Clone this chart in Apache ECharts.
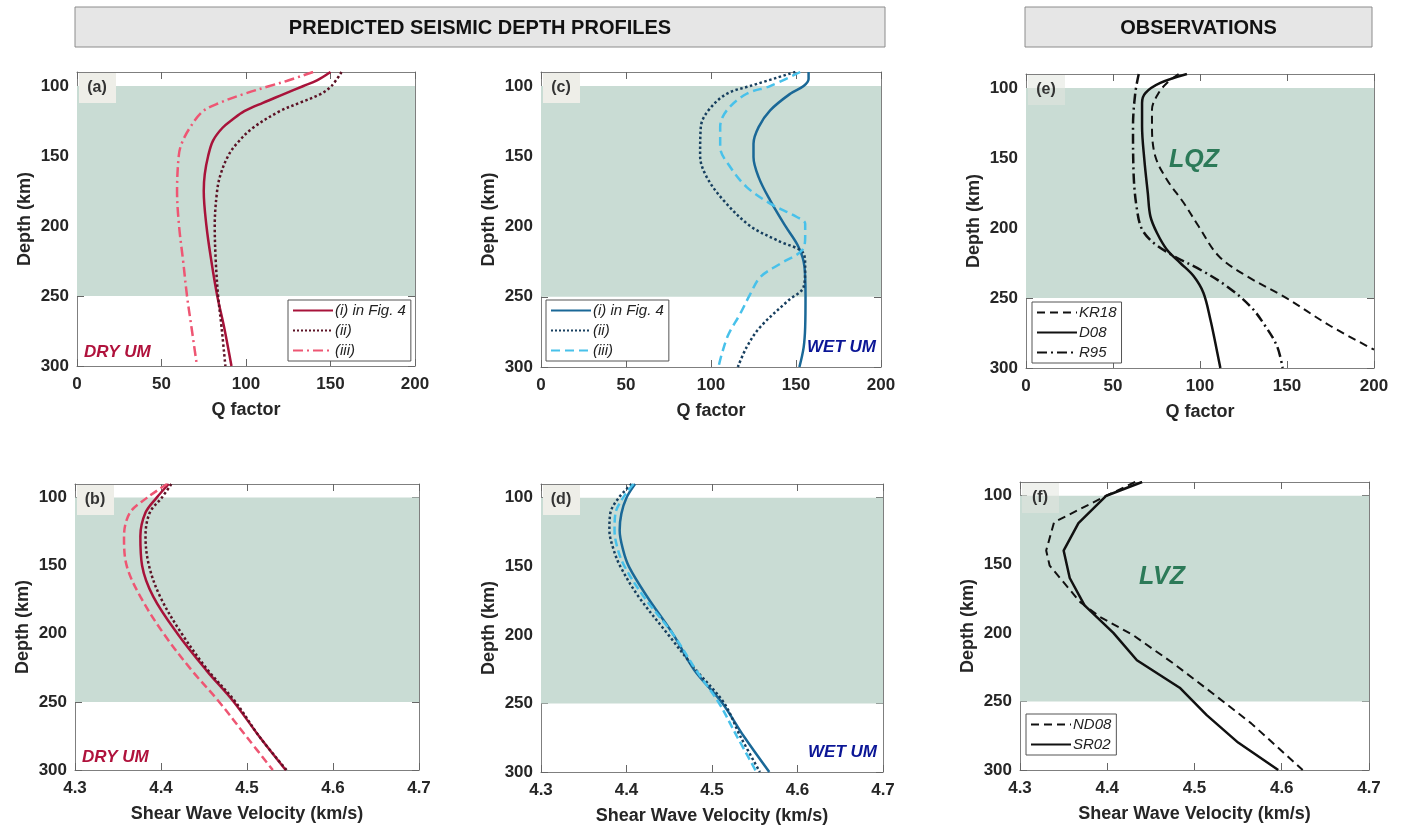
<!DOCTYPE html>
<html>
<head>
<meta charset="utf-8">
<script src="https://cdn.jsdelivr.net/npm/echarts@6/dist/echarts.min.js"></script>
<style>html,body{margin:0;padding:0;background:#fff}#c{width:1404px;height:831px}</style>
</head>
<body>
<div id="c"></div>
<script>
// ---------- DATA ----------
const qTicks = [0, 50, 100, 150, 200];
const vTicks = [4.3, 4.4, 4.5, 4.6, 4.7];
const depthTicks = [100, 150, 200, 250, 300];
const zoneTop = 100, zoneBottom = 250;

// (a) Q factor, dry upper mantle
const depthA1 = [90, 96, 100, 106, 112, 118, 124, 130, 139, 150, 163, 175, 200, 225, 250, 272, 300];
const qA1 = [150, 142, 134, 122, 110, 99, 92, 86, 80.5, 77.6, 75.6, 75, 76.6, 79.5, 83, 87, 91.4];
const depthA2 = [90, 100, 106, 112, 118, 130, 141.5, 150, 163, 175, 200, 225, 250, 272, 300];
const qA2 = [156.5, 150.6, 143.7, 131.8, 120, 104, 94.3, 89.4, 85, 82.9, 81.5, 82.1, 83.5, 85.5, 87.8];
const depthA3 = [90, 96.4, 100, 106, 112, 118, 130, 141.5, 150, 175, 200, 225, 250, 272, 300];
const qA3 = [139.7, 124, 114, 98, 84.5, 74.6, 66.7, 61.8, 60.2, 59.2, 60.4, 62.8, 65.1, 67.7, 71];

// (c) Q factor, wet upper mantle
const depthC1 = [90, 95, 100, 105.5, 117.3, 129.2, 141, 150.5, 164.8, 181.4, 199.6, 214.6, 228.8, 250, 271.5, 286, 300];
const qC1 = [157.4, 157.4, 154.5, 146.6, 134.8, 128, 125, 125, 128, 134.8, 143.7, 151.5, 155, 155.6, 155.4, 154.5, 152];
const depthC2 = [90, 100, 105.5, 117.3, 129.2, 149.8, 164.8, 181.4, 199.6, 209.8, 219.3, 228.8, 243, 252.5, 271.5, 285.8, 300];
const qC2 = [149.6, 123, 109.3, 98.5, 94, 93.6, 97.5, 107.4, 123, 138.8, 154.5, 155.4, 154.5, 145.6, 129, 121, 115.8];
const depthC3 = [90, 100, 105.5, 117.3, 129.2, 143.4, 157.6, 171.9, 183.7, 193.2, 198, 207.5, 217, 226.5, 236, 248.3, 262.5, 276.7, 290.5, 300];
const qC3 = [152.5, 134.8, 121, 109.3, 105.4, 105.4, 111.3, 121, 134.8, 150.5, 155.4, 155.4, 153.5, 140.7, 129, 123, 117, 110.3, 106.4, 104.4];

// (e) Q factor observations
const depthKR18 = [90, 96.4, 103.6, 115.5, 127.4, 148.8, 165.5, 182, 198.8, 220, 234.5, 248.8, 270, 286.9];
const qKR18 = [87.7, 81, 76.2, 72.4, 72.4, 74.3, 81, 90.6, 99.2, 110.7, 127, 148, 175, 200];
const depthD08 = [90, 96.4, 103.6, 110.7, 127.4, 151, 175, 191.7, 203.6, 215.5, 225, 234.5, 246.4, 265.5, 282, 300];
const qD08 = [92.5, 77.2, 68.6, 66.7, 66.7, 68, 70, 71.5, 75.3, 81, 88.7, 96.4, 102, 106, 108.8, 111.7];
const depthR95 = [90, 103.6, 127.4, 163, 187, 201, 210.7, 220, 229.8, 241.7, 256, 270, 284.5, 300];
const qR95 = [64.8, 62.8, 61.5, 61.9, 63.8, 66.7, 73.4, 84.9, 100.2, 115.5, 129, 137.5, 144.3, 147.5];

// (b) Vs, dry upper mantle
const depthB = [90, 100, 111, 128.3, 149.8, 172.7, 199.8, 227, 249.5, 276, 300];
const vB1 = [4.409, 4.395, 4.382, 4.376, 4.378, 4.391, 4.419, 4.453, 4.484, 4.515, 4.545];
const vB2 = [4.412, 4.401, 4.387, 4.382, 4.386, 4.399, 4.424, 4.455, 4.486, 4.515, 4.546];
const vB3 = [4.407, 4.384, 4.364, 4.357, 4.360, 4.376, 4.403, 4.436, 4.467, 4.500, 4.530];

// (d) Vs, wet upper mantle
const depthD = [90, 100, 111.6, 123.7, 138, 150.4, 172, 200, 225.4, 249.6, 273.8, 300];
const vD1 = [4.410, 4.400, 4.394, 4.392, 4.396, 4.403, 4.424, 4.455, 4.479, 4.512, 4.537, 4.567];
const vD2 = [4.406, 4.391, 4.381, 4.380, 4.385, 4.393, 4.414, 4.449, 4.481, 4.514, 4.533, 4.556];
const vD3 = [4.408, 4.396, 4.387, 4.386, 4.390, 4.398, 4.420, 4.455, 4.481, 4.508, 4.529, 4.552];

// (f) Vs observations
const depthSR02 = [90, 100, 120, 140, 160, 180, 200, 220, 240, 260, 280, 300];
const vSR02 = [4.440, 4.399, 4.367, 4.350, 4.357, 4.374, 4.407, 4.434, 4.483, 4.514, 4.550, 4.596];
const depthND08 = [90, 101, 119.4, 140, 151, 177.6, 188.5, 201.8, 222.4, 244.2, 266, 300];
const vND08 = [4.432, 4.396, 4.339, 4.330, 4.334, 4.369, 4.392, 4.430, 4.476, 4.521, 4.565, 4.624];

const modelNames = ['(i) in Fig. 4', '(ii)', '(iii)'];

// ---------- LAYOUT / STYLE ----------
const FONT = "'Liberation Sans', Arial, sans-serif";
const grids = [
  {left: 77, top: 72, width: 338, height: 294},   // a
  {left: 541, top: 72, width: 340, height: 295},  // c
  {left: 1026, top: 74, width: 348, height: 294}, // e
  {left: 75, top: 484, width: 344, height: 286},  // b
  {left: 541, top: 484, width: 342, height: 288}, // d
  {left: 1020, top: 482, width: 349, height: 288} // f
];
const BAND = '#c9dcd4';
const pair = (xs, ys) => xs.map((x, i) => [x, ys[i]]);

const xAxes = [], yAxes = [];
grids.forEach((g, i) => {
  const isQ = i < 3;
  const base = {
    gridIndex: i, type: 'value',
    min: isQ ? qTicks[0] : vTicks[0], max: isQ ? qTicks[qTicks.length - 1] : vTicks[vTicks.length - 1],
    interval: isQ ? 50 : 0.1,
    axisLine: {show: true, onZero: false, lineStyle: {color: '#7f7f7f', width: 1}},
    splitLine: {show: false}
  };
  xAxes.push(Object.assign({}, base, {
    position: 'bottom',
    name: isQ ? 'Q factor' : 'Shear Wave Velocity (km/s)',
    nameLocation: 'middle', nameGap: 35,
    nameTextStyle: {fontFamily: FONT, fontWeight: 'bold', fontSize: 18, color: '#262626'},
    axisTick: {show: true, inside: true, length: 7, lineStyle: {color: '#666'}},
    axisLabel: {fontFamily: FONT, fontWeight: 'bold', fontSize: 17, color: '#262626', margin: 10,
      formatter: v => isQ ? String(Math.round(v)) : v.toFixed(1)}
  }));
  xAxes.push(Object.assign({}, base, {
    position: 'top',
    axisTick: {show: true, inside: true, length: 7, lineStyle: {color: '#666'}},
    axisLabel: {show: false}
  }));
  const yb = {
    gridIndex: i, type: 'value', min: 90, max: 300, inverse: true,
    axisLine: {show: true, onZero: false, lineStyle: {color: '#7f7f7f', width: 1}},
    splitLine: {show: false}
  };
  yAxes.push(Object.assign({}, yb, {
    position: 'left',
    name: 'Depth (km)', nameLocation: 'middle', nameGap: 43, nameRotate: 90,
    nameTextStyle: {fontFamily: FONT, fontWeight: 'bold', fontSize: 18, color: '#262626'},
    axisTick: {show: true, inside: true, length: 7, customValues: depthTicks, lineStyle: {color: '#666'}},
    axisLabel: {fontFamily: FONT, fontWeight: 'bold', fontSize: 17, color: '#262626', margin: 8, customValues: depthTicks}
  }));
  yAxes.push(Object.assign({}, yb, {
    position: 'right',
    axisTick: {show: true, inside: true, length: 7, customValues: depthTicks, lineStyle: {color: '#666'}},
    axisLabel: {show: false}
  }));
});

const series = [];
function band(i) {
  series.push({
    type: 'line', xAxisIndex: 2 * i, yAxisIndex: 2 * i, data: [], z: 1, silent: true,
    markArea: {silent: true, itemStyle: {color: BAND}, data: [[{yAxis: zoneTop}, {yAxis: zoneBottom}]]}
  });
}
function curve(i, name, data, color, type, width, smooth) {
  series.push({
    type: 'line', name: name, xAxisIndex: 2 * i, yAxisIndex: 2 * i, data: data,
    symbol: 'none', smooth: smooth === undefined ? 0.35 : smooth, z: 3,
    lineStyle: {color: color, type: type, width: width || 2.5},
    itemStyle: {color: color}
  });
}
for (let i = 0; i < 6; i++) band(i);

const RED1 = '#a8133a', RED2 = '#5c1225', RED3 = '#ee5673';
const BLU1 = '#1a6897', BLU2 = '#173f5f', BLU3 = '#48c1ea';
const DASHDOT = [10, 4, 2, 4];
curve(0, 'a' + modelNames[0], pair(qA1, depthA1), RED1, 'solid');
curve(0, 'a' + modelNames[1], pair(qA2, depthA2), RED2, 'dotted');
curve(0, 'a' + modelNames[2], pair(qA3, depthA3), RED3, DASHDOT);
curve(1, 'c' + modelNames[0], pair(qC1, depthC1), BLU1, 'solid');
curve(1, 'c' + modelNames[1], pair(qC2, depthC2), BLU2, 'dotted');
curve(1, 'c' + modelNames[2], pair(qC3, depthC3), BLU3, [9, 5]);
curve(2, 'eKR18', pair(qKR18, depthKR18), '#111', [8, 5], 2);
curve(2, 'eD08', pair(qD08, depthD08), '#111', 'solid', 2.5);
curve(2, 'eR95', pair(qR95, depthR95), '#111', DASHDOT, 2.5);
curve(3, 'b' + modelNames[0], pair(vB1, depthB), RED1, 'solid');
curve(3, 'b' + modelNames[1], pair(vB2, depthB), RED2, 'dotted');
curve(3, 'b' + modelNames[2], pair(vB3, depthB), RED3, [8, 4]);
curve(4, 'd' + modelNames[0], pair(vD1, depthD), BLU1, 'solid');
curve(4, 'd' + modelNames[1], pair(vD2, depthD), BLU2, 'dotted');
curve(4, 'd' + modelNames[2], pair(vD3, depthD), BLU3, [8, 4]);
curve(5, 'fND08', pair(vND08, depthND08), '#111', [8, 5], 2, false);
curve(5, 'fSR02', pair(vSR02, depthSR02), '#111', 'solid', 2.5, false);

function legend(left, top, names) {
  return {
    left: left, top: top, orient: 'vertical', data: names, selectedMode: false,
    backgroundColor: '#fff', borderColor: '#555', borderWidth: 1, borderRadius: 0,
    padding: [3, 5, 3, 4], itemWidth: 40, itemHeight: 12, itemGap: 5,
    itemStyle: {opacity: 0},
    formatter: n => n.slice(1),
    textStyle: {fontFamily: FONT, fontStyle: 'italic', fontSize: 15, color: '#222', padding: [0, 0, 0, -3]}
  };
}

const labelBox = (g, txt, fill) => [
  {type: 'rect', shape: {x: g.left + 2, y: g.top + 1, width: 37, height: 30}, style: {fill: fill}, z: 50},
  {type: 'text', x: g.left + 20, y: g.top + 16, z: 51,
   style: {text: txt, fill: '#333', font: 'bold 16px ' + FONT, align: 'center', verticalAlign: 'middle'}}
];
const titleBox = (x, y, w, h, txt) => [
  {type: 'rect', shape: {x: x, y: y, width: w, height: h}, style: {fill: '#e6e6e6', stroke: '#8c8c8c', lineWidth: 1}, z: 50},
  {type: 'text', x: x + w / 2, y: y + h / 2 + 1, z: 51,
   style: {text: txt, fill: '#111', font: 'bold 20px ' + FONT, align: 'center', verticalAlign: 'middle'}}
];
const note = (x, y, txt, color, align, size) => ({
  type: 'text', x: x, y: y, z: 51,
  style: {text: txt, fill: color, font: 'italic bold ' + (size || 17) + 'px ' + FONT, align: align, verticalAlign: 'middle'}
});

const graphics = [].concat(
  titleBox(75, 7, 810, 40, 'PREDICTED SEISMIC DEPTH PROFILES'),
  titleBox(1025, 7, 347, 40, 'OBSERVATIONS'),
  labelBox(grids[0], '(a)', '#eeeee8'),
  labelBox(grids[1], '(c)', '#eeeee8'),
  labelBox(grids[2], '(e)', 'rgba(226,230,222,0.55)'),
  labelBox(grids[3], '(b)', '#eeeee8'),
  labelBox(grids[4], '(d)', '#eeeee8'),
  labelBox(grids[5], '(f)', 'rgba(226,230,222,0.55)'),
  [
    note(84, 352, 'DRY UM', '#b0123c', 'left'),
    note(82, 757, 'DRY UM', '#b0123c', 'left'),
    note(876, 347, 'WET UM', '#0b1696', 'right'),
    note(877, 752, 'WET UM', '#0b1696', 'right'),
    note(1194, 160, 'LQZ', '#2c7a58', 'center', 25),
    note(1162, 577, 'LVZ', '#2c7a58', 'center', 25)
  ]
);

const chart = echarts.init(document.getElementById('c'), null, {renderer: 'canvas'});
chart.setOption({
  backgroundColor: '#fff',
  animation: false,
  grid: grids.map(g => Object.assign({containLabel: false}, g)),
  xAxis: xAxes,
  yAxis: yAxes,
  legend: [
    legend(288, 300, modelNames.map(n => 'a' + n)),
    legend(546, 300, modelNames.map(n => 'c' + n)),
    legend(1032, 302, ['eKR18', 'eD08', 'eR95']),
    legend(1026, 714, ['fND08', 'fSR02'])
  ],
  series: series,
  graphic: graphics
});
</script>
</body>
</html>
